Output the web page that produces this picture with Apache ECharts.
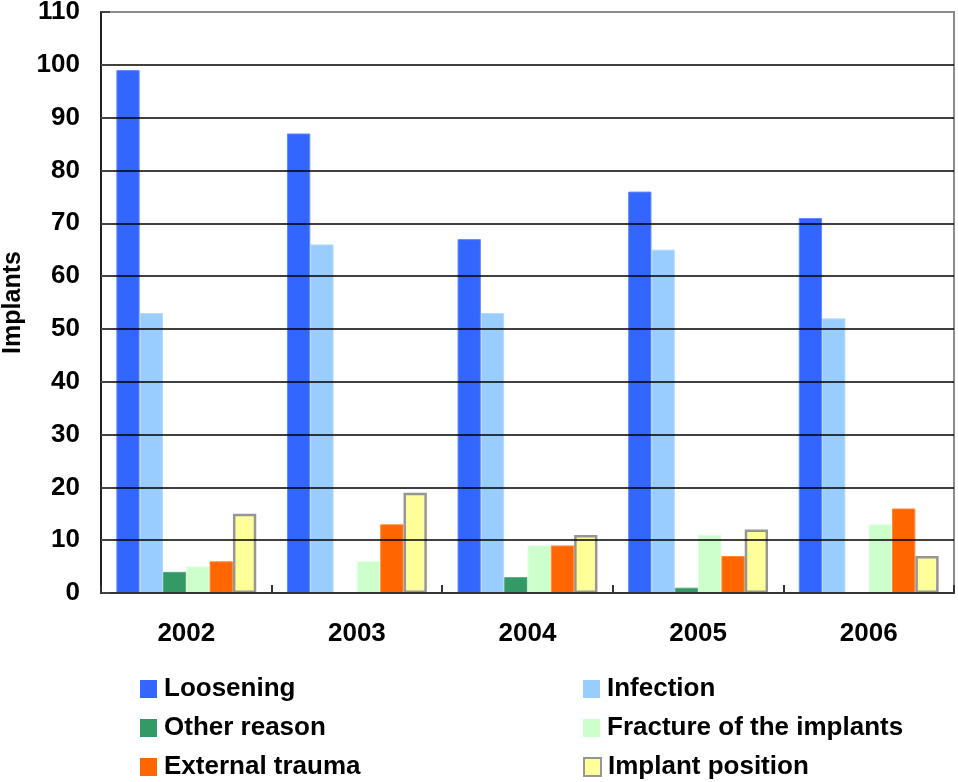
<!DOCTYPE html>
<html>
<head>
<meta charset="utf-8">
<script src="https://cdn.jsdelivr.net/npm/echarts@6/dist/echarts.min.js"></script>
<style>
html,body{margin:0;padding:0;background:#fff;}
#chart{width:958px;height:782px;}
</style>
</head>
<body>
<div id="chart"></div>
<script>
var years = ['2002', '2003', '2004', '2005', '2006'];
var loosening = [99, 87, 67, 76, 71];
var infection = [53, 66, 53, 65, 52];
var otherReason = [4, 0, 3, 1, 0];
var fracture = [5, 6, 9, 11, 13];
var externalTrauma = [6, 13, 9, 7, 16];
var implantPosition = [15, 19, 11, 12, 7];
var yTicks = [0, 10, 20, 30, 40, 50, 60, 70, 80, 90, 100, 110];

var seriesNames = ['Loosening', 'Infection', 'Other reason', 'Fracture of the implants', 'External trauma', 'Implant position'];
var seriesData = [loosening, infection, otherReason, fracture, externalTrauma, implantPosition];
var colors = ['#3366FF', '#99CCFF', '#339966', '#CCFFCC', '#FF6600', '#FFFF99'];
var borders = ['#6688FF', '#B3DAFF', '#55AA80', '#DDFFDD', '#FF8833', '#969696'];
var borderWidths = [1, 1, 1, 1, 1, 2.5];

var FONT = '"Liberation Sans", Arial, sans-serif';

var series = seriesNames.map(function (n, i) {
  return {
    name: n,
    type: 'bar',
    data: seriesData[i],
    barGap: '0%',
    barCategoryGap: '18%',
    itemStyle: { color: colors[i], borderColor: borders[i], borderWidth: borderWidths[i] },
    emphasis: { disabled: true },
    z: 3
  };
});

var legendPos = [
  { left: 140, top: 676 }, { left: 583, top: 676 },
  { left: 140, top: 715 }, { left: 583, top: 715 },
  { left: 140, top: 754 }, { left: 583, top: 754 }
];
var legends = seriesNames.map(function (n, i) {
  return {
    data: [{ name: n, itemStyle: { borderColor: i === 5 ? '#969696' : colors[i], borderWidth: i === 5 ? 2 : 0 } }],
    left: legendPos[i].left,
    top: legendPos[i].top,
    padding: 0,
    itemWidth: 17,
    itemHeight: 18,
    itemGap: 9,
    selectedMode: false,
    icon: 'rect',
    textStyle: { fontFamily: FONT, fontWeight: 'bold', fontSize: 26, color: '#000', padding: [0, 0, 0, 2] }
  };
});

var chart = echarts.init(document.getElementById('chart'), null, { renderer: 'canvas' });
chart.setOption({
  animation: false,
  backgroundColor: '#fff',
  grid: { left: 101, right: 4, top: 12, bottom: 189, show: true, borderColor: '#8C8C8C', borderWidth: 2, containLabel: false, outerBoundsMode: 'none' },
  legend: legends,
  xAxis: {
    type: 'category',
    data: years,
    axisLine: { lineStyle: { color: '#333', width: 2 } },
    axisTick: { show: true, inside: true, length: 8, lineStyle: { color: '#333', width: 2 } },
    axisLabel: { fontFamily: FONT, fontWeight: 'bold', fontSize: 26, color: '#000', margin: 28 },
    z: 5
  },
  yAxis: {
    type: 'value',
    min: 0,
    max: yTicks[yTicks.length - 1],
    interval: yTicks[1] - yTicks[0],
    name: 'Implants',
    nameLocation: 'middle',
    nameGap: 72,
    nameTextStyle: { fontFamily: FONT, fontWeight: 'bold', fontSize: 25, color: '#000' },
    axisLine: { show: true, lineStyle: { color: '#222', width: 2 } },
    axisTick: { show: true, inside: true, length: 9, lineStyle: { color: '#444', width: 2 } },
    axisLabel: { fontFamily: FONT, fontWeight: 'bold', fontSize: 26, color: '#000', margin: 21 },
    splitLine: { show: true, showMaxLine: false, lineStyle: { color: '#000', width: 1.5 } },
    z: 5
  },
  series: series
});
</script>
</body>
</html>
